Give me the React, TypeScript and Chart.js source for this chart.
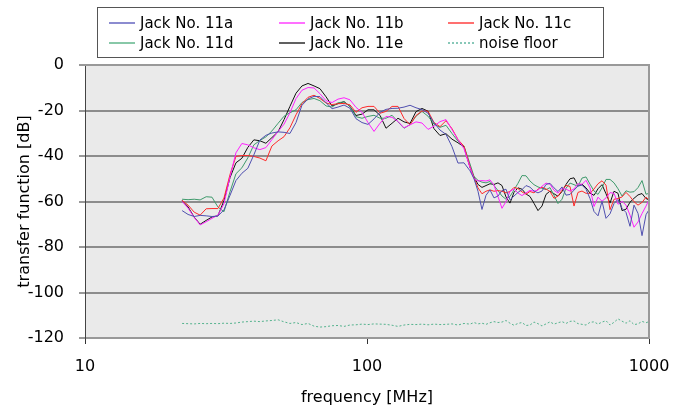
import React, { useEffect, useRef } from 'react';
import { Chart, registerables } from 'chart.js';

Chart.register(...registerables);

const freqMHz = [
  22.1, 23.2, 24.4, 25.6, 26.9, 28.2, 29.6, 31.1, 32.7, 34.3,
  36.0, 37.8, 39.7, 41.7, 43.8, 46.0, 48.4, 50.8, 53.3, 56.0,
  58.8, 61.8, 64.9, 68.1, 71.6, 75.2, 78.9, 82.9, 87.0, 91.4,
  96.0, 100.8, 105.9, 111.2, 116.8, 122.7, 128.8, 135.3, 142.1, 149.2,
  156.7, 164.6, 172.8, 181.5, 190.6, 200.2, 210.2, 220.8, 231.9,
  239.6, 247.5, 255.7, 264.2, 273.0, 282.0, 291.4, 301.1, 311.1, 321.4,
  332.1, 343.1, 354.5, 366.3, 378.4, 391.0, 404.0, 417.4, 431.3, 445.6,
  460.4, 475.7, 491.5, 507.8, 524.7, 542.1, 560.1, 578.7, 597.9, 617.8,
  638.3, 659.5, 681.3, 704.0, 727.4, 751.5, 776.5, 802.3, 828.8, 856.4,
  884.8, 914.2, 944.6, 975.9, 1000,
];

const jack11a = [
  -64.0, -65.7, -66.6, -66.1, -66.3, -66.6, -66.4, -63.7, -57.2, -50.8,
  -47.6, -45.4, -39.5, -33.0, -30.9, -29.9, -29.4, -29.6, -30.1, -25.3,
  -17.7, -14.9, -13.8, -13.9, -16.6, -19.2, -18.5, -17.6, -19.0, -23.6,
  -25.3, -26.1, -23.7, -20.8, -19.5, -19.1, -19.0, -18.5, -17.7, -18.8,
  -19.6, -21.2, -25.4, -28.6, -30.5, -35.9, -43.1, -43.0, -46.5,
  -50.0, -55.5, -63.5, -57.3, -54.9, -58.4, -57.6, -55.2, -54.6, -59.3,
  -57.6, -56.0, -54.8, -53.0, -53.7, -55.4, -56.2, -55.4, -52.5, -52.0,
  -54.0, -55.6, -53.6, -57.2, -56.9, -55.0, -53.2, -52.8, -54.6, -58.7,
  -64.4, -66.3, -59.9, -67.4, -65.4, -60.9, -59.1, -63.0, -64.8, -70.9,
  -61.6, -65.2, -75.0, -65.8, -63.6,
];

const jack11b = [
  -60.0, -62.9, -67.0, -70.3, -68.9, -67.4, -66.0, -61.0, -49.0, -38.6,
  -34.5, -35.1, -36.4, -37.2, -36.3, -32.8, -29.2, -26.0, -21.0, -14.8,
  -11.1, -9.9, -10.1, -12.6, -15.7, -16.5, -15.0, -14.4, -15.3, -18.6,
  -20.8, -25.3, -29.2, -25.6, -22.6, -23.0, -24.8, -27.6, -26.3, -25.0,
  -25.5, -28.3, -26.9, -24.9, -24.0, -28.4, -32.8, -36.8, -45.0,
  -50.0, -51.0, -50.8, -51.0, -50.5, -52.8, -57.8, -63.0, -60.0, -55.5,
  -54.5, -56.3, -57.4, -56.2, -55.1, -55.5, -55.0, -53.3, -51.9, -52.4,
  -55.1, -56.3, -54.2, -54.6, -55.4, -54.5, -52.2, -52.5, -50.7, -54.0,
  -62.2, -58.1, -59.9, -58.4, -56.1, -56.4, -61.2, -59.9, -61.6, -66.0,
  -71.3, -69.0, -65.3, -62.0, -59.3,
];

const jack11c = [
  -59.5, -61.6, -64.7, -66.0, -63.2, -63.1, -63.1, -58.5, -48.0, -40.2,
  -39.8, -39.8, -40.2, -40.9, -42.1, -35.6, -33.3, -31.5, -27.6, -21.9,
  -17.0, -14.2, -13.3, -14.7, -16.7, -17.4, -17.0, -16.9, -17.5, -20.8,
  -18.8, -18.2, -18.2, -21.2, -20.4, -18.2, -18.2, -23.5, -26.3, -22.2,
  -20.2, -20.3, -25.3, -27.1, -24.5, -28.0, -32.8, -35.7, -44.7,
  -49.6, -54.0, -56.6, -55.5, -54.9, -55.5, -55.2, -55.5, -56.2, -55.6,
  -53.8, -54.3, -55.8, -56.8, -55.6, -56.2, -54.6, -53.7, -54.5, -55.6,
  -58.6, -57.6, -55.1, -52.9, -53.4, -62.0, -56.0, -55.4, -56.4, -56.4,
  -54.5, -52.2, -50.9, -52.8, -63.6, -59.0, -58.7, -58.0, -56.0, -57.8,
  -60.1, -61.6, -60.4, -58.1, -59.3,
];

const jack11d = [
  -59.0, -59.2, -59.0, -59.3, -57.9, -58.1, -62.4, -64.5, -55.6, -47.8,
  -45.2, -40.8, -35.1, -33.2, -31.6, -29.0, -25.6, -22.5, -21.0, -19.7,
  -16.5, -15.2, -14.7, -15.7, -18.0, -18.5, -16.6, -16.2, -18.2, -22.7,
  -23.4, -22.6, -22.1, -23.4, -23.4, -22.1, -25.0, -27.8, -26.2, -22.5,
  -20.4, -22.5, -26.0, -27.4, -26.5, -30.1, -33.5, -35.6, -43.5,
  -49.0, -50.7, -51.5, -51.8, -51.2, -53.0, -55.2, -57.6, -59.0, -57.8,
  -54.9, -52.0, -48.6, -48.7, -51.0, -52.6, -53.6, -54.2, -54.8, -53.9,
  -57.3, -60.9, -59.0, -54.2, -51.9, -52.6, -53.3, -49.7, -49.2, -52.4,
  -55.4, -56.9, -54.0, -50.3, -50.3, -51.8, -54.4, -57.6, -55.3, -55.9,
  -55.7, -53.9, -50.8, -56.8, -56.4,
];

const jack11e = [
  -59.5, -62.4, -66.9, -70.0, -68.3, -66.8, -66.3, -59.6, -49.4, -43.0,
  -41.0, -36.2, -32.9, -33.3, -34.4, -31.9, -29.3, -24.0, -18.2, -12.4,
  -9.2, -8.1, -9.2, -10.4, -14.0, -18.0, -17.0, -16.1, -18.2, -22.2,
  -21.6, -19.7, -19.7, -22.1, -27.8, -25.6, -23.4, -25.0, -25.7, -20.5,
  -19.1, -20.3, -28.0, -31.0, -30.2, -32.6, -34.2, -36.0, -45.0,
  -49.2, -52.5, -53.8, -53.0, -52.2, -52.5, -51.8, -53.0, -58.0, -60.7,
  -56.0, -54.0, -54.6, -56.7, -57.8, -60.8, -64.0, -62.0, -56.9, -55.4,
  -56.6, -57.7, -55.6, -52.5, -50.0, -49.6, -53.1, -52.4, -54.0, -56.3,
  -57.3, -54.4, -52.6, -56.6, -60.7, -55.5, -56.4, -64.0, -63.4, -60.3,
  -58.6, -57.1, -56.5, -58.7, -59.3,
];

const noiseFloor = [
  -113.6, -113.7, -113.8, -113.6, -113.7, -113.6, -113.7, -113.5, -113.6, -113.4,
  -113.0, -112.8, -112.6, -112.8, -112.5, -112.3, -112.0, -112.9, -113.6, -113.2,
  -114.1, -113.6, -114.8, -115.2, -115.0, -114.6, -114.5, -114.9, -114.3, -114.2,
  -113.9, -114.1, -113.8, -113.9, -114.0, -114.4, -114.9, -114.3, -114.0, -114.1,
  -113.9, -114.2, -113.9, -114.1, -114.0, -113.8, -114.3, -113.6, -113.9,
  -113.2, -113.8, -113.5, -114.0, -113.3, -112.8, -113.2, -113.0, -112.3, -113.5,
  -114.4, -113.6, -113.2, -114.5, -114.3, -113.0, -113.7, -114.7, -113.8, -112.9,
  -113.9, -113.3, -112.8, -113.6, -112.7, -112.5, -113.7, -114.0, -114.3, -113.1,
  -112.9, -113.9, -113.0, -112.4, -114.3, -113.1, -111.6, -112.6, -113.5, -112.4,
  -114.1, -113.8, -112.7, -113.3, -112.8,
];

const seriesLabels = ['Jack No. 11a', 'Jack No. 11b', 'Jack No. 11c', 'Jack No. 11d', 'Jack No. 11e', 'noise floor'];
const seriesColors = ['#5050b0', '#ff20ff', '#ff2a2a', '#3f9a6c', '#111111', '#55b38e'];
const legendColors = ['#8c8cd0', '#ff70ff', '#ff7070', '#88c8a8', '#606060', '#88c8b8'];

const xTickValues = [10, 100, 1000];
const yMin = -120;
const yMax = 0;
const yStep = 20;

export default function App() {
  const ref = useRef<HTMLCanvasElement>(null);

  useEffect(() => {
    if (!ref.current) return;
    const series = [jack11a, jack11b, jack11c, jack11d, jack11e, noiseFloor];
    const datasets = series.map((vals, i) => ({
      label: seriesLabels[i],
      data: freqMHz.map((f, j) => ({ x: f, y: vals[j] })),
      borderColor: seriesColors[i],
      backgroundColor: seriesColors[i],
      borderWidth: 1,
      borderDash: i === 5 ? [2, 2] : [],
      pointRadius: 0,
      fill: false,
      tension: 0,
    }));

    const bgPlugin = {
      id: 'plotBg',
      beforeDraw(chart: any) {
        const { ctx, chartArea: a } = chart;
        ctx.save();
        ctx.fillStyle = '#eaeaea';
        ctx.fillRect(a.left, a.top, a.right - a.left, a.bottom - a.top);
        ctx.restore();
      },
    };

    const framePlugin = {
      id: 'frame',
      afterDatasetsDraw(chart: any) {
        const { ctx, chartArea: a } = chart;
        ctx.save();
        ctx.strokeStyle = '#999999';
        ctx.lineWidth = 2;
        ctx.beginPath();
        ctx.moveTo(a.left, a.top);
        ctx.lineTo(a.right, a.top);
        ctx.lineTo(a.right, a.bottom);
        ctx.stroke();
        ctx.restore();
      },
    };

    const legendPlugin = {
      id: 'boxLegend',
      afterDraw(chart: any) {
        const ctx = chart.ctx;
        ctx.save();
        ctx.fillStyle = '#ffffff';
        ctx.fillRect(97.5, 7.5, 506, 50);
        ctx.strokeStyle = '#555555';
        ctx.lineWidth = 1;
        ctx.strokeRect(97.5, 7.5, 506, 50);
        const colX = [109, 279, 448];
        const rowY = [23, 43];
        ctx.font = '15px "DejaVu Sans"';
        ctx.textBaseline = 'middle';
        chart.data.datasets.forEach((ds: any, i: number) => {
          const cx = colX[i % 3];
          const cy = rowY[Math.floor(i / 3)];
          ctx.strokeStyle = legendColors[i];
          ctx.lineWidth = 2;
          ctx.setLineDash(i === 5 ? [2, 2] : []);
          ctx.beginPath();
          ctx.moveTo(cx, cy);
          ctx.lineTo(cx + 26, cy);
          ctx.stroke();
          ctx.setLineDash([]);
          ctx.fillStyle = '#000000';
          ctx.fillText(ds.label, cx + 31, cy + 1);
        });
        ctx.restore();
      },
    };

    const chart = new Chart(ref.current, {
      type: 'line',
      data: { datasets } as any,
      plugins: [bgPlugin, framePlugin, legendPlugin],
      options: {
        animation: false,
        responsive: false,
        layout: { padding: { top: 65, right: 36, left: 0, bottom: 0 } },
        plugins: { legend: { display: false }, tooltip: { enabled: false } },
        scales: {
          x: {
            type: 'logarithmic',
            min: 10,
            max: 1000,
            afterBuildTicks: (s: any) => {
              s.ticks = xTickValues.map((v) => ({ value: v }));
            },
            afterFit: (s: any) => {
              s.height = 70;
            },
            ticks: {
              callback: (v: any) => String(v),
              font: { family: 'DejaVu Sans', size: 16 },
              color: '#000000',
              padding: 13,
              maxRotation: 0,
              autoSkip: false,
            },
            grid: {
              drawOnChartArea: false,
              drawTicks: true,
              tickLength: 6,
              tickColor: '#333333',
              tickWidth: 1,
            },
            border: { display: true, color: '#999999', width: 2 },
            title: {
              display: true,
              text: 'frequency [MHz]',
              font: { family: 'DejaVu Sans', size: 16 },
              color: '#000000',
              padding: { top: 0, bottom: 1 },
            },
          },
          y: {
            min: yMin,
            max: yMax,
            afterFit: (s: any) => {
              s.width = 85;
            },
            ticks: {
              stepSize: yStep,
              font: { family: 'DejaVu Sans', size: 16 },
              color: '#000000',
              padding: 15,
            },
            grid: {
              color: '#8c8c8c',
              lineWidth: 2,
              tickLength: 6,
              tickColor: '#333333',
              tickWidth: 1,
            },
            border: { display: true, color: '#444444', width: 1 },
            title: {
              display: true,
              text: 'transfer function [dB]',
              font: { family: 'DejaVu Sans', size: 16 },
              color: '#000000',
              padding: { top: 15, bottom: 0 },
            },
          },
        },
      } as any,
    });
    return () => chart.destroy();
  }, []);

  return (
    <div style={{ position: 'absolute', left: 0, top: 0, width: 685, height: 408, background: '#ffffff' }}>
      <canvas ref={ref} width={685} height={408} />
    </div>
  );
}
